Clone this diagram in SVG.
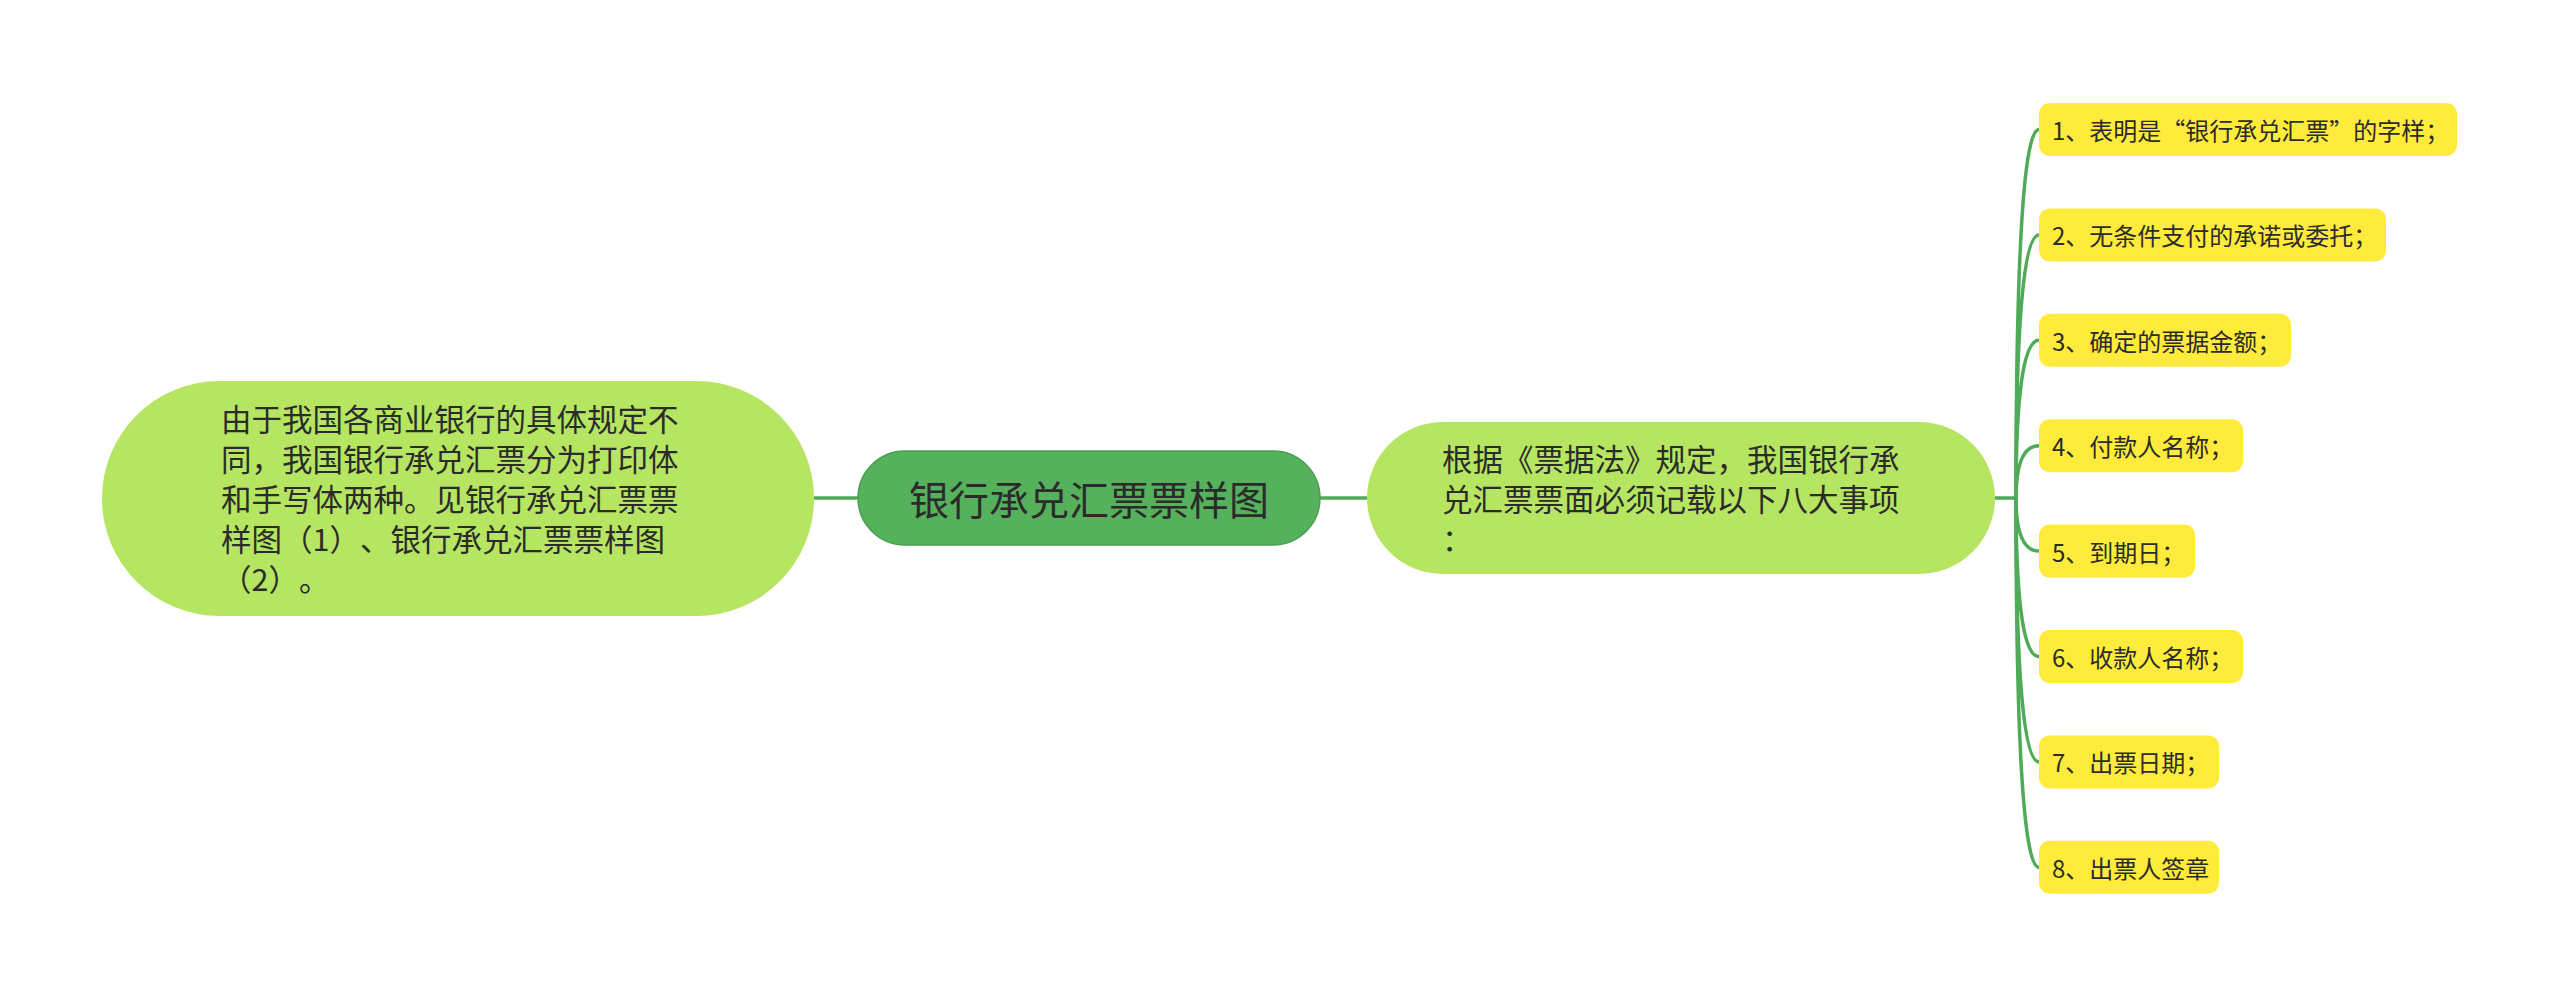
<svg xmlns="http://www.w3.org/2000/svg" width="2560" height="997" viewBox="0 0 2560 997">
<style>
  text { font-family: "Noto Sans CJK SC", "Noto Sans", sans-serif; fill: #2b2b2b; text-spacing-trim: space-all; font-feature-settings: "halt" 0, "chws" 0; }
  .conn { fill: none; stroke: #4fab58; stroke-width: 3.5; }
  .main { fill: #55b15c; stroke: #4a9f52; stroke-width: 1.5; }
  .sub { fill: #b5e561; }
  .leaf { fill: #ffeb3b; }
  .t40 { font-size: 40px; }
  .t30 { font-size: 30.5px; }
  .t24 { font-size: 24px; }
</style>
<rect width="2560" height="997" fill="#ffffff"/>
<g id="connectors">
  <path class="conn" d="M814 498 H858"/>
  <path class="conn" d="M1320 498 H1367"/>
  <path class="conn" d="M1995 498 H2016"/>
  <path class="conn" d="M2016 498 Q2016 129.5 2039 129.5"/>
  <path class="conn" d="M2016 498 Q2016 234.9 2039 234.9"/>
  <path class="conn" d="M2016 498 Q2016 340.3 2039 340.3"/>
  <path class="conn" d="M2016 498 Q2016 445.7 2039 445.7"/>
  <path class="conn" d="M2016 498 Q2016 551.1 2039 551.1"/>
  <path class="conn" d="M2016 498 Q2016 656.5 2039 656.5"/>
  <path class="conn" d="M2016 498 Q2016 761.9 2039 761.9"/>
  <path class="conn" d="M2016 498 Q2016 867.3 2039 867.3"/>
</g>
<g id="center">
  <rect class="main" x="858" y="451" width="462" height="94" rx="47"/>
  <text class="t40" x="1089" y="498" text-anchor="middle" dominant-baseline="central">银行承兑汇票票样图</text>
</g>
<g id="left-note">
  <rect class="sub" x="102" y="381" width="712" height="235" rx="117.5"/>
  <text class="t30" x="221" dominant-baseline="central">
    <tspan x="221" y="418">由于我国各商业银行的具体规定不</tspan>
    <tspan x="221" y="458">同，我国银行承兑汇票分为打印体</tspan>
    <tspan x="221" y="498">和手写体两种。见银行承兑汇票票</tspan>
    <tspan x="221" y="538">样图（1）、银行承兑汇票票样图</tspan>
    <tspan x="221" y="578">（2）。</tspan>
  </text>
</g>
<g id="right-note">
  <rect class="sub" x="1367" y="422" width="628" height="152" rx="76"/>
  <text class="t30" x="1442" dominant-baseline="central">
    <tspan x="1442" y="457.5">根据《票据法》规定，我国银行承</tspan>
    <tspan x="1442" y="497.5">兑汇票票面必须记载以下八大事项</tspan>
    <tspan x="1442" y="537.5">：</tspan>
  </text>
</g>
<g id="item1">
  <rect class="leaf" x="2039" y="103" width="418" height="53" rx="11"/>
  <text class="t24" x="2052" y="129.5" dominant-baseline="central">1、表明是“银行承兑汇票”的字样；</text>
</g>
<g id="item2">
  <rect class="leaf" x="2039" y="208.4" width="347" height="53" rx="11"/>
  <text class="t24" x="2052" y="234.9" dominant-baseline="central">2、无条件支付的承诺或委托；</text>
</g>
<g id="item3">
  <rect class="leaf" x="2039" y="313.8" width="252" height="53" rx="11"/>
  <text class="t24" x="2052" y="340.3" dominant-baseline="central">3、确定的票据金额；</text>
</g>
<g id="item4">
  <rect class="leaf" x="2039" y="419.2" width="204" height="53" rx="11"/>
  <text class="t24" x="2052" y="445.7" dominant-baseline="central">4、付款人名称；</text>
</g>
<g id="item5">
  <rect class="leaf" x="2039" y="524.6" width="156" height="53" rx="11"/>
  <text class="t24" x="2052" y="551.1" dominant-baseline="central">5、到期日；</text>
</g>
<g id="item6">
  <rect class="leaf" x="2039" y="630" width="204" height="53" rx="11"/>
  <text class="t24" x="2052" y="656.5" dominant-baseline="central">6、收款人名称；</text>
</g>
<g id="item7">
  <rect class="leaf" x="2039" y="735.4" width="180" height="53" rx="11"/>
  <text class="t24" x="2052" y="761.9" dominant-baseline="central">7、出票日期；</text>
</g>
<g id="item8">
  <rect class="leaf" x="2039" y="840.8" width="180" height="53" rx="11"/>
  <text class="t24" x="2052" y="867.3" dominant-baseline="central">8、出票人签章</text>
</g>
</svg>
